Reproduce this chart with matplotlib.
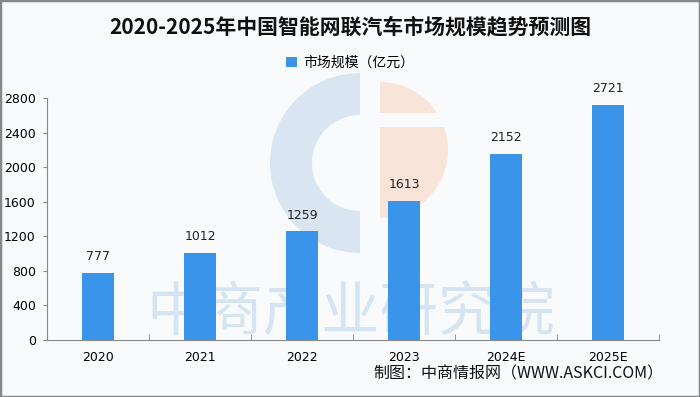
import numpy as np
import matplotlib.pyplot as plt
from matplotlib.patches import Wedge, Rectangle

plt.rcParams['font.family'] = ['Noto Sans CJK SC', 'DejaVu Sans']

years = ["2020", "2021", "2022", "2023", "2024E", "2025E"]
values = [777, 1012, 1259, 1613, 2152, 2721]
yticks = [0, 400, 800, 1200, 1600, 2000, 2400, 2800]

bg = "#f9fafc"
fig = plt.figure(figsize=(7, 3.97), dpi=100, facecolor=bg)

# watermark logo (pixel coords, origin bottom-left)
H = 397
fig.patches.append(Wedge((360, H - 163), 90, 90, 270, width=42, transform=None,
                         facecolor="#d9e6f1", edgecolor="none", zorder=0))
fig.patches.append(Wedge((380, H - 150), 68, -90, 90, transform=None,
                         facecolor="#f9e4da", edgecolor="none", zorder=0))
fig.patches.append(Rectangle((376, H - 127), 80, 14, transform=None,
                             facecolor=bg, edgecolor="none", zorder=0))
fig.text(351, H - 313, "中商产业研究院", transform=None, fontsize=42,
         fontweight="medium", color="#d5e4f0", ha="center", va="center", zorder=0)

ax = fig.add_axes([47 / 700, 57 / 397, 612 / 700, 242 / 397])
ax.set_facecolor("none")
ax.set_zorder(2)

x = np.arange(len(years))
ax.bar(x, values, width=0.31, color="#3a95ea", zorder=2, label="市场规模（亿元）")
for xi, v in zip(x, values):
    ax.text(xi, v + 110, str(v), ha="center", va="bottom", fontsize=9,
            family="DejaVu Sans", color="#222222")

ax.set_xlim(-0.5, len(years) - 0.5)
ax.set_ylim(0, 2800)
ax.set_yticks(yticks)
ax.set_yticklabels([str(t) for t in yticks], fontsize=9, family="DejaVu Sans")
ax.set_xticks(x)
ax.set_xticklabels(years, fontsize=9, family="DejaVu Sans")
ax.tick_params(axis="x", length=0, pad=8)
ax.tick_params(axis="y", length=3, color="#888888", pad=5)
ax.set_xticks(np.arange(len(years) + 1) - 0.5, minor=True)
ax.tick_params(axis="x", which="minor", direction="in", length=4, color="#888888")
for s in ["top", "right"]:
    ax.spines[s].set_visible(False)
for s in ["left", "bottom"]:
    ax.spines[s].set_color("#888888")

fig.legend(loc="center", bbox_to_anchor=(0.5, (H - 63) / H), frameon=False,
           fontsize=10, handlelength=0.8, handleheight=0.8, handletextpad=0.4)

fig.text(0.5, (H - 27) / H, "2020-2025年中国智能网联汽车市场规模趋势预测图",
         ha="center", va="center", fontsize=15, fontweight="bold", color="#111111")
fig.text(663 / 700, (H - 374) / H, "制图：中商情报网（WWW.ASKCI.COM）",
         ha="right", va="center", fontsize=11.5, color="#111111")

fig.patches.append(Rectangle((0, 0), 1, 1, transform=fig.transFigure, fill=False,
                             edgecolor="#888888", linewidth=2.5, zorder=5))

fig.savefig("out.png", dpi=100, facecolor=bg)
